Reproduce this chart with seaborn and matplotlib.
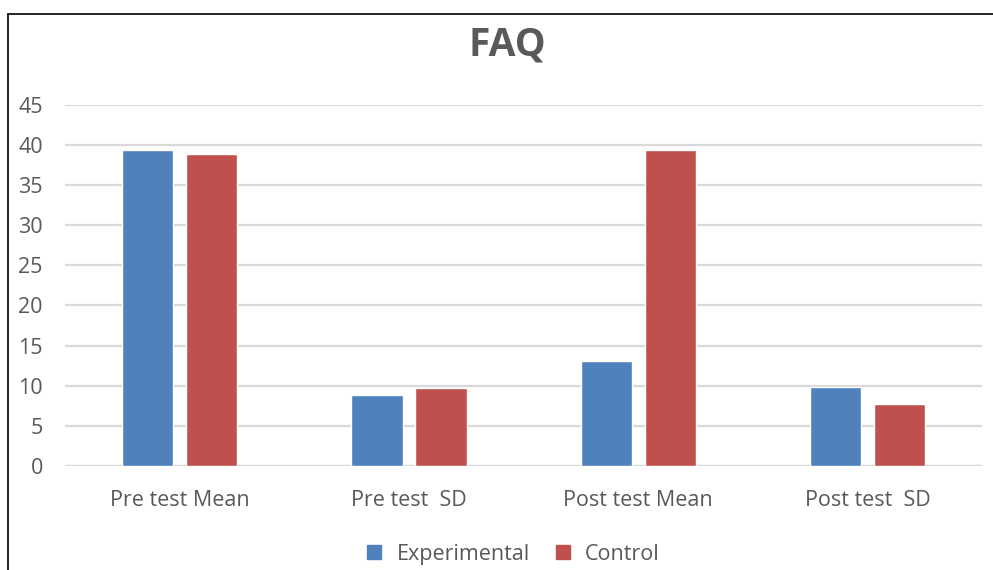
import matplotlib
matplotlib.use("Agg")
import matplotlib.pyplot as plt
import seaborn as sns
import pandas as pd
from matplotlib.lines import Line2D

categories = ["Pre test Mean", "Pre test  SD", "Post test Mean", "Post test  SD"]
experimental = [39.4, 8.9, 13.1, 9.9]
control = [38.9, 9.7, 39.4, 7.7]
groups = ["Experimental", "Control"]
yticks = [0, 5, 10, 15, 20, 25, 30, 35, 40, 45]

df = pd.DataFrame({
    "category": categories * 2,
    "value": experimental + control,
    "group": [groups[0]] * 4 + [groups[1]] * 4,
})

sns.set_theme(style="white")
plt.rcParams["font.family"] = ["Open Sans", "DejaVu Sans"]

text_color = "#595959"
palette = {"Experimental": "#4F81BD", "Control": "#C0504D"}

fig = plt.figure(figsize=(9.93, 5.70), dpi=100)
ax = fig.add_axes([0.0655, 0.1825, 0.9235, 0.6335])

sns.barplot(data=df, x="category", y="value", hue="group", order=categories,
            hue_order=groups, palette=palette, width=0.559, gap=0.2,
            saturation=1, ax=ax, legend=False, zorder=3)

ax.set_xlim(-0.5, 3.5)
ax.set_ylim(0, 45)
ax.set_yticks(yticks)
ax.set_yticklabels([str(t) for t in yticks])
ax.yaxis.grid(True, color="#D9D9D9", linewidth=1.6, zorder=0)
ax.set_axisbelow(True)
for s in ax.spines.values():
    s.set_visible(False)
ax.axhline(0, color="#D9D9D9", linewidth=1.6, zorder=1)
ax.set_xlabel("")
ax.set_ylabel("")
ax.tick_params(axis="y", length=0, pad=16, labelsize=15.5, labelcolor=text_color)
ax.tick_params(axis="x", length=0, pad=17.5, labelsize=15.5, labelcolor=text_color)

fig.text(0.511, 0.921, "FAQ", ha="center", va="center", fontsize=28,
         fontweight="bold", color=text_color)

handles = [Line2D([0], [0], marker="s", linestyle="none", markersize=10,
                  markerfacecolor=palette[g], markeredgecolor=palette[g])
           for g in groups]
fig.legend(handles, groups, loc="center", bbox_to_anchor=(0.51, 0.028),
           ncol=2, frameon=False, fontsize=15.5, labelcolor=text_color,
           handletextpad=0.05, columnspacing=0.5)

# frame lines along the top and left edge
fig.add_artist(Line2D([0.008, 1.0], [1 - 14 / 570, 1 - 14 / 570],
                      transform=fig.transFigure, color="black", linewidth=1.2))
fig.add_artist(Line2D([0.008, 0.008], [1 - 14 / 570, 0.0],
                      transform=fig.transFigure, color="black", linewidth=1.2))

fig.savefig("out.png", dpi=100, facecolor="white")
